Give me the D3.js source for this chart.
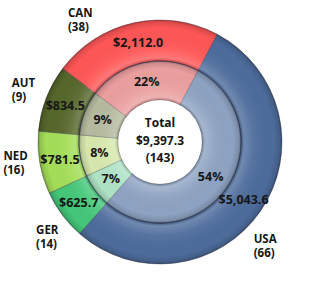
<!DOCTYPE html>
<html>
<head>
<meta charset="utf-8">
<script src="https://cdn.jsdelivr.net/npm/d3@7"></script>
<style>
  body { margin: 0; background: #fff; }
  text { font-family: "Open Sans", Lato, sans-serif; font-weight: bold; fill: #161616; }
</style>
</head>
<body>
<div id="chart"></div>
<script>
const countries = ["USA", "GER", "NED", "AUT", "CAN"];
const amounts = [5043.6, 625.7, 781.5, 834.5, 2112.0];
const medals = [66, 14, 16, 9, 38];
const outerColors = ["#4d6c9c", "#43c778", "#a4de58", "#56672b", "#ff5656"];
const innerColors = ["#8ea3c2", "#afe3c6", "#d7e8ae", "#b6bb9f", "#eb9f9f"];
// nudge for the country labels (degrees), where they sit off the slice middle
const labelNudge = [10, -3, 2, 0, -21];

const width = 314, height = 283;
const cx = 160, cy = 142;
const rHole = 42, rMid = 81, rOuter = 122;

let data = countries.map((c, i) => ({
    name: c, amount: amounts[i], medals: medals[i],
    outer: outerColors[i], inner: innerColors[i], nudge: labelNudge[i]
}));
let total = d3.sum(amounts);
let totalMedals = d3.sum(medals);

let pie = d3.pie()
    .sort(null)
    .value(d => d.amount)
    .startAngle(28 * Math.PI / 180)
    .endAngle(28 * Math.PI / 180 + 2 * Math.PI);
let arcs = pie(data);

let outerArc = d3.arc().innerRadius(rMid).outerRadius(rOuter);
let innerArc = d3.arc().innerRadius(rHole).outerRadius(rMid);

let svg = d3.select("#chart").append("svg")
    .attr("width", width)
    .attr("height", height);

let defs = svg.append("defs");

// bevel shading for each ring
function bevel(id, r0, r1) {
    let g = defs.append("radialGradient")
        .attr("id", id)
        .attr("gradientUnits", "userSpaceOnUse")
        .attr("cx", 0).attr("cy", 0).attr("r", r1);
    let f = r0 / r1;
    let span = 1 - f;
    [[0, "#000", 0], [f, "#000", 0.22], [f + span * 0.08, "#fff", 0.2], [f + span * 0.3, "#fff", 0.06],
     [f + span * 0.8, "#000", 0], [f + span * 0.94, "#000", 0.12], [1, "#000", 0.3]]
        .forEach(s => g.append("stop")
            .attr("offset", s[0])
            .attr("stop-color", s[1])
            .attr("stop-opacity", s[2]));
}
bevel("bevelOuter", rMid, rOuter);
bevel("bevelInner", rHole, rMid);

let g = svg.append("g").attr("transform", `translate(${cx},${cy})`);

g.selectAll("path.outer")
    .data(arcs)
    .join("path")
    .attr("class", "outer")
    .attr("d", outerArc)
    .attr("fill", d => d.data.outer)
    .attr("stroke", "rgba(40,40,60,0.45)")
    .attr("stroke-width", 0.8);

g.selectAll("path.inner")
    .data(arcs)
    .join("path")
    .attr("class", "inner")
    .attr("d", innerArc)
    .attr("fill", d => d.data.inner)
    .attr("stroke", "rgba(40,40,60,0.35)")
    .attr("stroke-width", 0.8);

g.append("path")
    .attr("d", d3.arc().innerRadius(rMid).outerRadius(rOuter).startAngle(0).endAngle(2 * Math.PI)())
    .attr("fill", "url(#bevelOuter)");
g.append("path")
    .attr("d", d3.arc().innerRadius(rHole).outerRadius(rMid).startAngle(0).endAngle(2 * Math.PI)())
    .attr("fill", "url(#bevelInner)");

g.append("circle").attr("r", rMid)
    .attr("fill", "none").attr("stroke", "rgba(30,40,70,0.55)").attr("stroke-width", 1);
g.append("circle").attr("r", rHole)
    .attr("fill", "#fff").attr("stroke", "rgba(0,0,0,0.1)").attr("stroke-width", 1);

let fmt = d3.format(",.1f");

g.selectAll("text.amount")
    .data(arcs)
    .join("text")
    .attr("class", "amount")
    .attr("transform", d => `translate(${outerArc.centroid(d)})`)
    .attr("text-anchor", "middle")
    .attr("dy", "0.35em")
    .style("font-size", "12.5px")
    .text(d => "$" + fmt(d.data.amount));

g.selectAll("text.pct")
    .data(arcs)
    .join("text")
    .attr("class", "pct")
    .attr("transform", d => `translate(${innerArc.centroid(d)})`)
    .attr("text-anchor", "middle")
    .attr("dy", "0.35em")
    .style("font-size", "12.5px")
    .text(d => Math.round(d.data.amount / total * 100) + "%");

// country labels outside the ring
let labelR = 147;
let lab = g.selectAll("text.country")
    .data(arcs)
    .join("text")
    .attr("class", "country")
    .style("font-size", "11.5px")
    .attr("transform", d => {
        let a = (d.startAngle + d.endAngle) / 2 + d.data.nudge * Math.PI / 180;
        return `translate(${labelR * Math.sin(a)},${-labelR * Math.cos(a)})`;
    });
lab.append("tspan").attr("x", -11).attr("dy", "-0.2em").text(d => d.data.name);
lab.append("tspan").attr("x", -11).attr("dy", "1.2em").text(d => `(${d.data.medals})`);

// centre totals
let centre = g.append("text")
    .attr("text-anchor", "middle")
    .style("font-size", "12px");
centre.append("tspan").attr("x", 0).attr("y", -15).text("Total");
centre.append("tspan").attr("x", 0).attr("y", 3).text("$" + fmt(total));
centre.append("tspan").attr("x", 0).attr("y", 19.5).text(`(${totalMedals})`);
</script>
</body>
</html>
